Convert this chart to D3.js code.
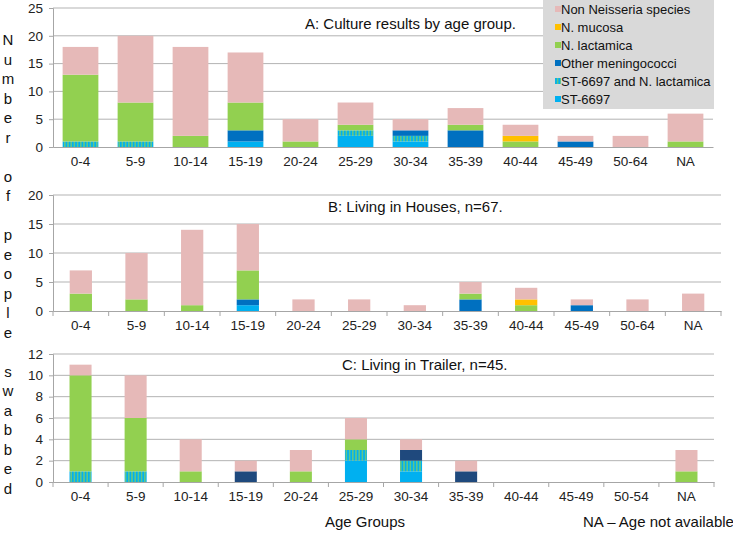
<!DOCTYPE html>
<html>
<head>
<meta charset="utf-8">
<script src="https://cdn.jsdelivr.net/npm/d3@7"></script>
<style>
  body { margin: 0; background: #fff; }
  svg { font-family: "Liberation Sans", Arial, sans-serif; }
</style>
</head>
<body>
<svg id="chart" width="733" height="534"></svg>
<script>
// age groups
const agesAB = ["0-4", "5-9", "10-14", "15-19", "20-24", "25-29", "30-34", "35-39", "40-44", "45-49", "50-64", "NA"];
const agesC = ["0-4", "5-9", "10-14", "15-19", "20-24", "25-29", "30-34", "35-39", "40-44", "45-49", "50-54", "NA"];

// stacking order, bottom to top
const seriesKeys = ["st", "stl", "other", "lact", "muc", "non"];
const legendNames = ["Non Neisseria species", "N. mucosa", "N. lactamica", "Other meningococci", "ST-6697 and N. lactamica", "ST-6697"];
const legendKeys = ["non", "muc", "lact", "other", "stl", "st"];

// A: culture results by age group
const aST    = [0, 0, 0, 1, 0, 2, 1, 0, 0, 0, 0, 0];
const aSTL   = [1, 1, 0, 0, 0, 1, 1, 0, 0, 0, 0, 0];
const aOther = [0, 0, 0, 2, 0, 0, 1, 3, 0, 1, 0, 0];
const aLact  = [12, 7, 2, 5, 1, 1, 0, 1, 1, 0, 0, 1];
const aMuc   = [0, 0, 0, 0, 0, 0, 0, 0, 1, 0, 0, 0];
const aNon   = [5, 12, 16, 9, 4, 4, 2, 3, 2, 1, 2, 5];

// B: living in houses
const bST    = [0, 0, 0, 1, 0, 0, 0, 0, 0, 0, 0, 0];
const bSTL   = [0, 0, 0, 0, 0, 0, 0, 0, 0, 0, 0, 0];
const bOther = [0, 0, 0, 1, 0, 0, 0, 2, 0, 1, 0, 0];
const bLact  = [3, 2, 1, 5, 0, 0, 0, 1, 1, 0, 0, 0];
const bMuc   = [0, 0, 0, 0, 0, 0, 0, 0, 1, 0, 0, 0];
const bNon   = [4, 8, 13, 8, 2, 2, 1, 2, 2, 1, 2, 3];

// C: living in trailer
const cST    = [0, 0, 0, 0, 0, 2, 1, 0, 0, 0, 0, 0];
const cSTL   = [1, 1, 0, 0, 0, 1, 1, 0, 0, 0, 0, 0];
const cOther = [0, 0, 0, 1, 0, 0, 1, 1, 0, 0, 0, 0];
const cLact  = [9, 5, 1, 0, 1, 1, 0, 0, 0, 0, 0, 1];
const cMuc   = [0, 0, 0, 0, 0, 0, 0, 0, 0, 0, 0, 0];
const cNon   = [1, 4, 3, 1, 2, 2, 1, 1, 0, 0, 0, 2];

const svg = d3.select("#chart");
const defs = svg.append("defs");

// stripes for ST-6697 and N. lactamica
const pat = defs.append("pattern")
  .attr("id", "stripes")
  .attr("patternUnits", "userSpaceOnUse")
  .attr("width", 3.2)
  .attr("height", 10);
pat.append("rect").attr("width", 3.2).attr("height", 10).attr("fill", "#00b0f0");
pat.append("rect").attr("width", 1.6).attr("height", 10).attr("fill", "#5fc68a");

const colorsAB = {st: "#00b0f0", stl: "url(#stripes)", other: "#0070c0", lact: "#92d050", muc: "#ffc000", non: "#e6b9b8"};
const colorsC = Object.assign({}, colorsAB, {other: "#1f497d"});

function buildRows(ages, st, stl, other, lact, muc, non) {
  return ages.map((a, i) => ({age: a, st: st[i], stl: stl[i], other: other[i], lact: lact[i], muc: muc[i], non: non[i]}));
}

const panels = [
  {title: "A: Culture results by age group.", ages: agesAB, rows: buildRows(agesAB, aST, aSTL, aOther, aLact, aMuc, aNon),
   max: 25, step: 5, top: 8, bottom: 147, left: 53, right: 713, pad: 0.35, ticks: false, colors: colorsAB, titleX: 305, titleY: 29},
  {title: "B: Living in Houses, n=67.", ages: agesAB, rows: buildRows(agesAB, bST, bSTL, bOther, bLact, bMuc, bNon),
   max: 20, step: 5, top: 195, bottom: 311, left: 53, right: 721, pad: 0.6, ticks: true, colors: colorsAB, titleX: 328, titleY: 212},
  {title: "C: Living in Trailer, n=45.", ages: agesC, rows: buildRows(agesC, cST, cSTL, cOther, cLact, cMuc, cNon),
   max: 12, step: 2, top: 354, bottom: 482, left: 53, right: 714, pad: 0.6, ticks: true, colors: colorsC, titleX: 342, titleY: 370}
];

panels.forEach(p => {
  const g = svg.append("g");
  const x = d3.scaleBand().domain(p.ages).range([p.left, p.right]).paddingInner(p.pad).paddingOuter(p.pad / 2);
  const y = d3.scaleLinear().domain([0, p.max]).range([p.bottom, p.top]);
  const tickVals = d3.range(0, p.max + 0.001, p.step);

  // gridlines
  g.append("g").selectAll("line").data(tickVals.filter(v => v > 0)).enter().append("line")
    .attr("x1", p.left).attr("x2", p.right)
    .attr("y1", d => y(d)).attr("y2", d => y(d))
    .attr("stroke", "#b3b3b3").attr("stroke-width", 1);

  // y axis
  const yAxis = g.append("g")
    .attr("transform", `translate(${p.left},0)`)
    .call(d3.axisLeft(y).tickValues(tickVals).tickSize(4).tickPadding(6));
  yAxis.select(".domain").attr("stroke", "#a6a6a6");
  yAxis.selectAll(".tick line").attr("stroke", "#a6a6a6");
  yAxis.selectAll("text").style("font-size", "13.5px").attr("fill", "#222");

  // title
  g.append("text")
    .attr("x", p.titleX).attr("y", p.titleY)
    .style("font-size", "15px").attr("fill", "#111")
    .text(p.title);

  // stacked bars
  const stack = d3.stack().keys(seriesKeys)(p.rows);
  g.append("g").selectAll("g").data(stack).enter().append("g")
    .attr("fill", d => p.colors[d.key])
    .selectAll("rect").data(d => d).enter().append("rect")
    .attr("x", d => x(d.data.age))
    .attr("width", x.bandwidth())
    .attr("y", d => y(d[1]))
    .attr("height", d => y(d[0]) - y(d[1]));

  // x axis
  const xAxis = g.append("g")
    .attr("transform", `translate(0,${p.bottom})`)
    .call(d3.axisBottom(x).tickSize(0).tickPadding(9));
  xAxis.select(".domain").attr("stroke", "#a6a6a6");
  xAxis.selectAll("text").style("font-size", "13.5px").attr("fill", "#222");
  if (p.ticks) {
    const edges = p.ages.map(a => x(a) - x.step() * x.paddingInner() / 2);
    edges[0] = p.left;
    edges.push(p.right);
    g.append("g").selectAll("line").data(edges).enter().append("line")
      .attr("x1", d => d).attr("x2", d => d)
      .attr("y1", p.bottom).attr("y2", p.bottom + 5)
      .attr("stroke", "#a6a6a6");
  }
});

// legend
const legend = svg.append("g");
legend.append("rect")
  .attr("x", 543).attr("y", 0).attr("width", 171).attr("height", 109)
  .attr("fill", "#d9d9d9");
legendKeys.forEach((k, i) => {
  const cy = 9 + i * 18;
  legend.append("rect")
    .attr("x", 555).attr("y", cy - 3).attr("width", 6).attr("height", 6)
    .attr("fill", k === "stl" ? "url(#stripes)" : colorsAB[k]);
  legend.append("text")
    .attr("x", 561).attr("y", cy + 5)
    .style("font-size", "13px").attr("fill", "#111")
    .text(legendNames[i]);
});

// vertical y label, one letter per line
const yLabel = "Number of people swabbed".split("");
svg.append("g").selectAll("text").data(yLabel).enter().append("text")
  .attr("x", 8).attr("y", (d, i) => 45 + i * 19.5)
  .attr("text-anchor", "middle")
  .style("font-size", "15px").attr("fill", "#111")
  .text(d => d);

svg.append("text")
  .attr("x", 325).attr("y", 527)
  .style("font-size", "15px").attr("fill", "#111")
  .text("Age Groups");

svg.append("text")
  .attr("x", 583).attr("y", 527)
  .style("font-size", "15px").attr("fill", "#111")
  .text("NA – Age not available");
</script>
</body>
</html>
